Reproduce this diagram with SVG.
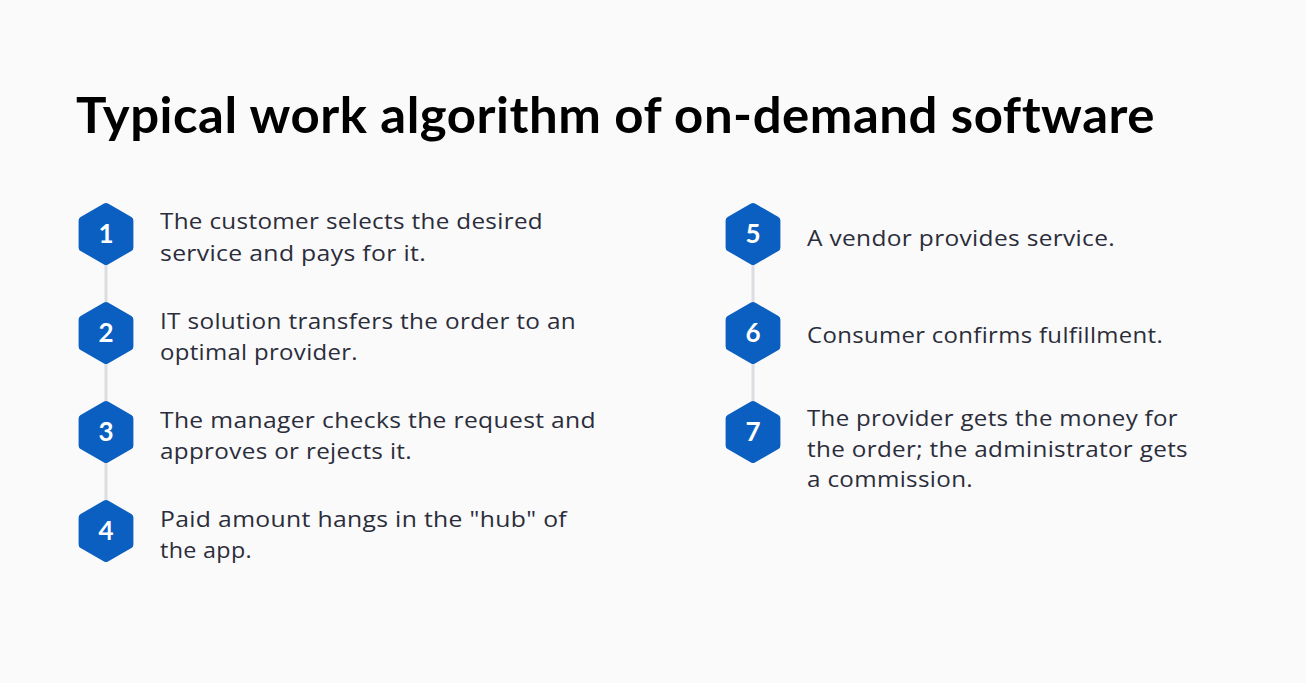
<svg xmlns="http://www.w3.org/2000/svg" width="1306" height="683" viewBox="0 0 1306 683">
<defs>
<style>
.bg{fill:#fafafa}
.title{font-family:Lato,"Noto Sans",sans-serif;font-weight:700;font-size:50px;fill:#000;letter-spacing:0.5px}
.txt{font-family:"Open Sans","Noto Sans",sans-serif;font-size:22px;font-weight:500;fill:#2b2d3a;letter-spacing:0.3px}
.hex{fill:#0a5fc0;stroke:#0a5fc0;stroke-width:8;stroke-linejoin:round}
.num{font-family:Lato,"Noto Sans",sans-serif;font-weight:700;font-size:26px;fill:#fff;text-anchor:middle}
.conn{stroke:#dcdde0;stroke-width:3;fill:none}
</style>
<polygon id="hx" points="0,-27 23.4,-13.5 23.4,13.5 0,27 -23.4,13.5 -23.4,-13.5"/>
</defs>
<rect class="bg" x="0" y="0" width="1306" height="683"/>
<text class="title" x="76" y="133" textLength="1079" lengthAdjust="spacingAndGlyphs">Typical work algorithm of on-demand software</text>
<g id="connectors">
<line class="conn" x1="106" y1="262" x2="106" y2="305"/>
<line class="conn" x1="106" y1="361" x2="106" y2="404"/>
<line class="conn" x1="106" y1="460" x2="106" y2="503"/>
<line class="conn" x1="753" y1="262" x2="753" y2="305"/>
<line class="conn" x1="753" y1="361" x2="753" y2="404"/>
</g>
<g id="step1">
<use href="#hx" class="hex" x="106" y="234"/>
<text class="num" x="106" y="243">1</text>
<text class="txt" x="160" y="229" textLength="383" lengthAdjust="spacingAndGlyphs">The customer selects the desired</text>
<text class="txt" x="160" y="261" textLength="266" lengthAdjust="spacingAndGlyphs">service and pays for it.</text>
</g>
<g id="step2">
<use href="#hx" class="hex" x="106" y="333"/>
<text class="num" x="106" y="342">2</text>
<text class="txt" x="160" y="329" textLength="416" lengthAdjust="spacingAndGlyphs">IT solution transfers the order to an</text>
<text class="txt" x="160" y="360" textLength="198" lengthAdjust="spacingAndGlyphs">optimal provider.</text>
</g>
<g id="step3">
<use href="#hx" class="hex" x="106" y="432"/>
<text class="num" x="106" y="441">3</text>
<text class="txt" x="160" y="428" textLength="436" lengthAdjust="spacingAndGlyphs">The manager checks the request and</text>
<text class="txt" x="160" y="459" textLength="252" lengthAdjust="spacingAndGlyphs">approves or rejects it.</text>
</g>
<g id="step4">
<use href="#hx" class="hex" x="106" y="531"/>
<text class="num" x="106" y="540">4</text>
<text class="txt" x="160" y="527" textLength="407" lengthAdjust="spacingAndGlyphs">Paid amount hangs in the "hub" of</text>
<text class="txt" x="160" y="558" textLength="92" lengthAdjust="spacingAndGlyphs">the app.</text>
</g>
<g id="step5">
<use href="#hx" class="hex" x="753" y="234"/>
<text class="num" x="753" y="243">5</text>
<text class="txt" x="807" y="246" textLength="308" lengthAdjust="spacingAndGlyphs">A vendor provides service.</text>
</g>
<g id="step6">
<use href="#hx" class="hex" x="753" y="333"/>
<text class="num" x="753" y="342">6</text>
<text class="txt" x="807" y="343" textLength="356" lengthAdjust="spacingAndGlyphs">Consumer confirms fulfillment.</text>
</g>
<g id="step7">
<use href="#hx" class="hex" x="753" y="432"/>
<text class="num" x="753" y="441">7</text>
<text class="txt" x="807" y="426" textLength="371" lengthAdjust="spacingAndGlyphs">The provider gets the money for</text>
<text class="txt" x="807" y="457" textLength="381" lengthAdjust="spacingAndGlyphs">the order; the administrator gets</text>
<text class="txt" x="807" y="487" textLength="166" lengthAdjust="spacingAndGlyphs">a commission.</text>
</g>
</svg>
